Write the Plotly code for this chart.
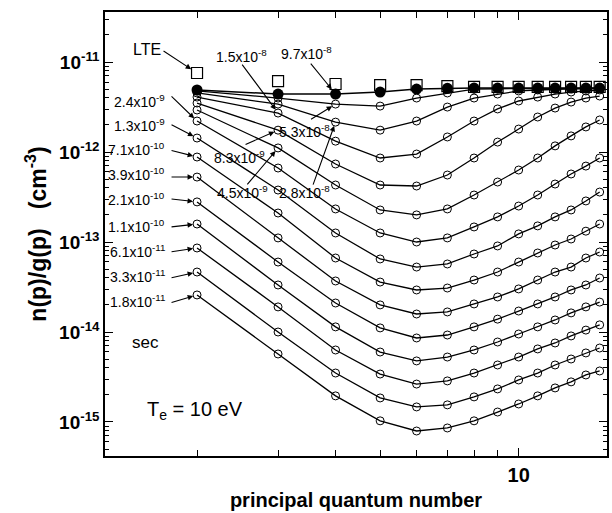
import math
import plotly.graph_objects as go

# principal quantum number
p = [2, 3, 4, 5, 6, 7, 8, 9, 10, 11, 12, 13, 14, 15]

# n(p)/g(p) (cm^-3)
lte = [7.55e-12, 6.15e-12, 5.70e-12, 5.55e-12, 5.55e-12, 5.41e-12, 5.30e-12,
       5.30e-12, 5.30e-12, 5.30e-12, 5.30e-12, 5.30e-12, 5.30e-12, 5.30e-12]
t_9p7e_8 = [4.89e-12, 4.41e-12, 4.41e-12, 4.64e-12, 5.01e-12, 5.10e-12, 5.14e-12,
            5.14e-12, 5.14e-12, 5.14e-12, 5.14e-12, 5.14e-12, 5.14e-12, 5.14e-12]
t_5p3e_8 = [4.77e-12, 3.98e-12, 3.41e-12, 3.24e-12, 3.98e-12, 4.53e-12, 5.01e-12,
            5.05e-12, 5.08e-12, 5.08e-12, 5.08e-12, 5.08e-12, 5.08e-12, 5.08e-12]
t_2p8e_8 = [4.53e-12, 3.41e-12, 2.15e-12, 1.75e-12, 2.21e-12, 3.16e-12, 3.98e-12,
            4.41e-12, 4.77e-12, 4.89e-12, 5.01e-12, 5.05e-12, 5.08e-12, 5.08e-12]
t_1p5e_8 = [4.08e-12, 2.71e-12, 1.32e-12, 8.58e-13, 9.50e-13, 1.47e-12, 2.21e-12,
            3.01e-12, 3.69e-12, 4.08e-12, 4.41e-12, 4.64e-12, 4.77e-12, 4.89e-12]
t_8p3e_9 = [3.50e-12, 1.75e-12, 7.36e-13, 4.30e-13, 4.19e-13, 5.55e-13, 8.58e-13,
            1.29e-12, 1.80e-12, 2.45e-12, 3.08e-12, 3.59e-12, 3.98e-12, 4.19e-12]
t_4p5e_9 = [2.93e-12, 1.11e-12, 4.30e-13, 2.27e-13, 2.00e-13, 2.33e-13, 3.33e-13,
            4.64e-13, 6.31e-13, 8.58e-13, 1.17e-12, 1.51e-12, 1.90e-12, 2.27e-12]
t_2p4e_9 = [2.21e-12, 6.64e-13, 2.33e-13, 1.26e-13, 1.00e-13, 1.11e-13, 1.47e-13,
            1.90e-13, 2.51e-13, 3.33e-13, 4.41e-13, 5.70e-13, 6.98e-13, 8.58e-13]
t_1p3e_9 = [1.43e-12, 3.78e-13, 1.26e-13, 6.48e-14, 5.27e-14, 5.70e-14, 7.36e-14,
            9.04e-14, 1.23e-13, 1.51e-13, 1.90e-13, 2.27e-13, 2.86e-13, 3.59e-13]
t_7p1e_10 = [8.80e-13, 2.10e-13, 6.64e-14, 3.59e-14, 2.93e-14, 3.08e-14, 3.78e-14,
             4.64e-14, 5.99e-14, 7.55e-14, 9.26e-14, 1.08e-13, 1.32e-13, 1.585e-13]
t_3p9e_10 = [5.27e-13, 1.11e-13, 3.69e-14, 2.00e-14, 1.585e-14, 1.67e-14, 2.05e-14,
             2.45e-14, 3.01e-14, 3.78e-14, 4.64e-14, 5.27e-14, 6.64e-14, 7.74e-14]
t_2p1e_10 = [2.79e-13, 5.99e-14, 2.10e-14, 1.11e-14, 8.58e-15, 9.26e-15, 1.14e-14,
             1.39e-14, 1.71e-14, 2.05e-14, 2.45e-14, 2.93e-14, 3.33e-14, 3.98e-14]
t_1p1e_10 = [1.585e-13, 3.33e-14, 1.14e-14, 5.99e-15, 4.77e-15, 5.27e-15, 6.31e-15,
             7.74e-15, 9.50e-15, 1.14e-14, 1.36e-14, 1.63e-14, 1.90e-14, 2.15e-14]
t_6p1e_11 = [8.58e-14, 1.90e-14, 6.31e-15, 3.41e-15, 2.64e-15, 2.86e-15, 3.50e-15,
             4.30e-15, 5.27e-15, 6.48e-15, 7.55e-15, 9.04e-15, 1.05e-14, 1.20e-14]
t_3p3e_11 = [4.64e-14, 1.00e-14, 3.50e-15, 1.85e-15, 1.47e-15, 1.55e-15, 1.90e-15,
             2.33e-15, 2.93e-15, 3.50e-15, 4.30e-15, 5.01e-15, 5.85e-15, 6.64e-15]
t_1p8e_11 = [2.58e-14, 5.70e-15, 1.95e-15, 1.03e-15, 7.94e-16, 8.58e-16, 1.03e-15,
             1.29e-15, 1.585e-15, 1.95e-15, 2.39e-15, 2.79e-15, 3.33e-15, 3.69e-15]

open_series = [t_1p8e_11, t_3p3e_11, t_6p1e_11, t_1p1e_10, t_2p1e_10, t_3p9e_10,
               t_7p1e_10, t_1p3e_9, t_2p4e_9, t_4p5e_9, t_8p3e_9, t_1p5e_8,
               t_2p8e_8, t_5p3e_8]

y_tick_vals = [1e-15, 1e-14, 1e-13, 1e-12, 1e-11]
y_tick_text = ["<b>10<sup>-15</sup></b>", "<b>10<sup>-14</sup></b>", "<b>10<sup>-13</sup></b>",
               "<b>10<sup>-12</sup></b>", "<b>10<sup>-11</sup></b>"]
x_tick_vals = [10]
x_tick_text = ["<b>10</b>"]

FONT = "Liberation Sans, Arial, Helvetica, sans-serif"

fig = go.Figure()
for s in open_series:
    fig.add_trace(go.Scatter(x=p, y=s, mode="lines+markers",
                             line=dict(color="black", width=1.3),
                             marker=dict(symbol="circle-open", size=8, color="black",
                                         line=dict(width=1, color="black")),
                             showlegend=False))
fig.add_trace(go.Scatter(x=p, y=t_9p7e_8, mode="lines+markers",
                         line=dict(color="black", width=1.5),
                         marker=dict(symbol="circle", size=11, color="black"),
                         showlegend=False))
fig.add_trace(go.Scatter(x=p, y=lte, mode="markers",
                         marker=dict(symbol="square-open", size=11, color="black",
                                     line=dict(width=1.2, color="black")),
                         showlegend=False))

L, R, T, B = 105, 607, 12, 456
W, H = 612, 513


def px(xp):
    return (xp - L) / (R - L)


def py(yp):
    return (B - yp) / (B - T)


ann = []


def label(text, xp, yp, anchor="center", size=14):
    ann.append(dict(text=text, x=px(xp), y=py(yp), xref="paper", yref="paper",
                    xanchor=anchor, yanchor="middle", showarrow=False,
                    font=dict(size=size, color="black", family=FONT)))


def arrow(pv, yv, ax, ay, standoff=4):
    ann.append(dict(text="", x=math.log10(pv), y=math.log10(yv), xref="x", yref="y",
                    ax=ax, ay=ay, axref="pixel", ayref="pixel", showarrow=True,
                    arrowhead=2, arrowsize=1, arrowwidth=1.1, arrowcolor="black",
                    standoff=standoff))


# left-hand labels pointing to p = 2
left = [("2.4x10<sup>-9</sup>", t_2p4e_9, 101, -27, -26),
        ("1.3x10<sup>-9</sup>", t_1p3e_9, 125, -27, -14),
        ("7.1x10<sup>-10</sup>", t_7p1e_10, 149, -27, -7),
        ("3.9x10<sup>-10</sup>", t_3p9e_10, 174, -27, 0),
        ("2.1x10<sup>-10</sup>", t_2p1e_10, 199, -27, -3),
        ("1.1x10<sup>-10</sup>", t_1p1e_10, 226, -27, 3),
        ("6.1x10<sup>-11</sup>", t_6p1e_11, 251, -27, 4),
        ("3.3x10<sup>-11</sup>", t_3p3e_11, 276, -27, 6),
        ("1.8x10<sup>-11</sup>", t_1p8e_11, 301, -27, 8)]
for txt, s, yp, ax, ay in left:
    label(txt, 167, yp, anchor="right")
    arrow(p[0], s[0], ax, ay)

label("LTE", 147, 49, size=16)
arrow(p[0], lte[0], -35, -23, standoff=7)
label("1.5x10<sup>-8</sup>", 241, 56)
arrow(p[1], t_1p5e_8[1], -37, -50)
label("9.7x10<sup>-8</sup>", 306, 53)
arrow(p[2], t_9p7e_8[2], -26, -32, standoff=6)
label("8.3x10<sup>-9</sup>", 239, 157)
arrow(p[1], t_8p3e_9[1], -34, 15)
label("5.3x10<sup>-8</sup>", 304, 131)
arrow(p[2], t_5p3e_8[2], -26, 16)
label("4.5x10<sup>-9</sup>", 242, 192)
arrow(p[1], t_4p5e_9[1], -32, 38)
label("2.8x10<sup>-8</sup>", 304, 192)
arrow(p[2], t_2p8e_8[2], -23, 64)

label("sec", 130, 342, anchor="left", size=17)
label("T<sub>e</sub> = 10 eV", 145, 410, anchor="left", size=20)

y_minor = [k * 10.0 ** e for e in range(-16, -10) for k in range(2, 10)]

fig.update_layout(
    width=W, height=H,
    margin=dict(l=L, r=W - R, t=T, b=H - B, autoexpand=False),
    paper_bgcolor="white", plot_bgcolor="white",
    font=dict(family=FONT, color="black"),
    annotations=ann,
    xaxis=dict(type="log", range=[0.101, 1.192], showgrid=False, zeroline=False,
               automargin=False,
               showline=True, linecolor="black", linewidth=1.5, mirror="ticks",
               ticks="inside", ticklen=8, tickwidth=1.2, tickcolor="black",
               tickvals=x_tick_vals, ticktext=x_tick_text,
               tickfont=dict(size=20, family=FONT),
               minor=dict(tickvals=[2, 3, 4, 5, 6, 7, 8, 9], ticks="inside", ticklen=6,
                          tickwidth=1.1, tickcolor="black", showgrid=False),
               title=dict(text="<b>principal quantum number</b>",
                          font=dict(size=20, family=FONT), standoff=8)),
    yaxis=dict(type="log", range=[-15.378, -10.444], showgrid=False, zeroline=False,
               automargin=False,
               showline=True, linecolor="black", linewidth=1.5, mirror="ticks",
               ticks="inside", ticklen=8, tickwidth=1.2, tickcolor="black",
               tickvals=y_tick_vals, ticktext=y_tick_text,
               tickfont=dict(size=19, family=FONT),
               minor=dict(tickvals=y_minor, ticks="inside", ticklen=4,
                          tickwidth=1, tickcolor="black", showgrid=False),
               title=dict(text="<b>n(p)/g(p)\u00a0\u00a0 (cm<sup>-3</sup>)</b>",
                          font=dict(size=23, family=FONT), standoff=6)),
)

fig.write_html("out.html", config={"displayModeBar": False},
               post_script="document.body.style.margin='0px';")
